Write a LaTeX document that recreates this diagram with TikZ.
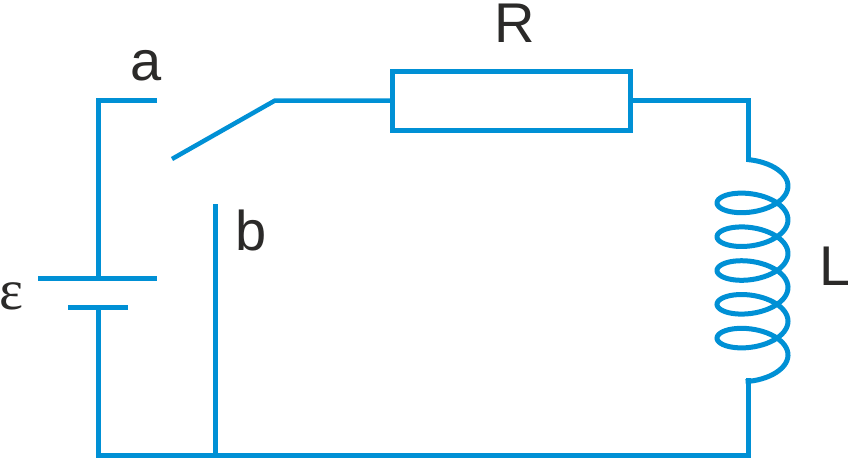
\documentclass[tikz,border=0pt]{standalone}
\usepackage{fontspec}
\setmainfont{Liberation Sans}
\newfontfamily\greekfont{Liberation Serif}
\definecolor{wireblue}{HTML}{0090D5}
\definecolor{labelgray}{HTML}{2B2A29}
\tikzset{wire/.style={wireblue,line width=5pt},
  lab/.style={labelgray,inner sep=0pt,anchor=base,font=\fontsize{56}{60}\selectfont}}
\begin{document}
\begin{tikzpicture}[x=1pt,y=-1pt]
\useasboundingbox (0,0) rectangle (848,458);
\coordinate (topleft) at (98,100.5);
\coordinate (contacta) at (157,100.5);
\coordinate (switchtip) at (172,159);
\coordinate (hinge) at (275,100.5);
\coordinate (topright) at (748,100.5);
\coordinate (coilin) at (748,162);
\coordinate (coilout) at (748,378);
\coordinate (botright) at (748,455);
\coordinate (botleft) at (98,455);
\coordinate (contactb) at (215,204);
\coordinate (junction) at (215,455);
\coordinate (plusl) at (38,278);
\coordinate (plusr) at (157,278);
\coordinate (plusc) at (98,278);
\coordinate (minusl) at (68,307);
\coordinate (minusr) at (128,307);
\coordinate (minusc) at (98,307);
\node[wire,draw,inner sep=0pt,outer sep=0pt,minimum width=238pt,minimum height=59pt] (res) at (511,100.5) {};
% wires
\draw[wire] (contacta)--(topleft)--(plusc);
\draw[wire] (plusl)--(plusr);
\draw[wire] (minusl)--(minusr);
\draw[wire] (minusc)--(botleft)--(botright)--(coilout);
\draw[wire] (contactb)--(junction);
\draw[wire,line width=4.5pt] (switchtip)--(hinge)--(res.west);
\draw[wire] (res.east)--(topright)--(coilin);
% coil
\draw[wire] plot[domain=-pi/2-.14:10*pi+pi/2+.2,samples=300,smooth]
  ({752.5+35.5*cos(deg(\x))},{186+33.8*\x/(2*pi)+17.4*sin(deg(\x))});
\node[lab] (laba) at (146.5,80) {a};
\node[lab] (labb) at (251,250) {b};
\node[lab] (labR) at (515,42) {R};
\node[lab] (labL) at (835,285) {L};
\node[lab,font=\greekfont\fontsize{57}{60}\selectfont] (labe) at (11,309) {ε};
\end{tikzpicture}
\end{document}
